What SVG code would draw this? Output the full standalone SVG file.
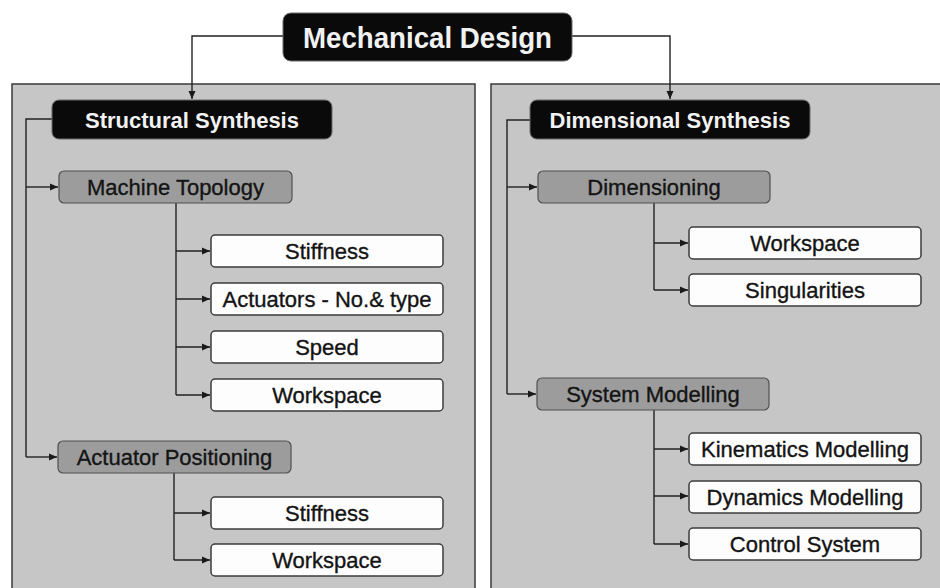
<svg xmlns="http://www.w3.org/2000/svg" width="940" height="588" viewBox="0 0 940 588">
<style>
.panel{fill:#c6c6c6;stroke:#3a3a3a;stroke-width:1.5}
.hdr{fill:#0a0a0a;stroke:#6a6a6a;stroke-width:1}
.hdrt{font-family:"Liberation Sans",Arial,sans-serif;font-weight:bold;fill:#f2f2f2;text-anchor:middle}
.grey{fill:#9c9c9c;stroke:#505050;stroke-width:1.2}
.white{fill:#fdfdfd;stroke:#3c3c3c;stroke-width:1.5}
.t{font-family:"Liberation Sans",Arial,sans-serif;font-size:22px;fill:#141414;stroke:#141414;stroke-width:0.35;text-anchor:middle}
.c{fill:none;stroke:#222;stroke-width:1.4}
</style>
<defs>
<marker id="arr" markerUnits="userSpaceOnUse" markerWidth="9" markerHeight="8" refX="8" refY="4" orient="auto">
<path d="M0,0.5 L8,4 L0,7.5 z" fill="#1a1a1a"/>
</marker>
</defs>
<rect width="940" height="588" fill="#ffffff"/>
<rect class="panel" x="12" y="84" width="463" height="520"/>
<rect class="panel" x="491" y="84" width="460" height="520"/>

<g id="connectors">
<path class="c" d="M283,36 H192 V99" marker-end="url(#arr)"/>
<path class="c" d="M572,36 H670 V99" marker-end="url(#arr)"/>
<path class="c" d="M52,119 H26 V457"/>
<path class="c" d="M26,187 H58" marker-end="url(#arr)"/>
<path class="c" d="M26,457 H57" marker-end="url(#arr)"/>
<path class="c" d="M176,203 V395"/>
<path class="c" d="M176,251 H210" marker-end="url(#arr)"/>
<path class="c" d="M176,299 H210" marker-end="url(#arr)"/>
<path class="c" d="M176,347 H210" marker-end="url(#arr)"/>
<path class="c" d="M176,395 H210" marker-end="url(#arr)"/>
<path class="c" d="M174,473 V560"/>
<path class="c" d="M174,513 H210" marker-end="url(#arr)"/>
<path class="c" d="M174,560 H210" marker-end="url(#arr)"/>
<path class="c" d="M530,120 H507 V394"/>
<path class="c" d="M507,187 H537" marker-end="url(#arr)"/>
<path class="c" d="M507,394 H536" marker-end="url(#arr)"/>
<path class="c" d="M654,202 V290"/>
<path class="c" d="M654,243 H688" marker-end="url(#arr)"/>
<path class="c" d="M654,290 H688" marker-end="url(#arr)"/>
<path class="c" d="M654,410 V544"/>
<path class="c" d="M654,449 H688" marker-end="url(#arr)"/>
<path class="c" d="M654,496 H688" marker-end="url(#arr)"/>
<path class="c" d="M654,544 H688" marker-end="url(#arr)"/>
</g>

<g id="mechanical-design">
<rect class="hdr" x="283" y="13" width="289" height="48" rx="8"/>
<text class="hdrt" x="427.5" y="48" font-size="30" textLength="249" lengthAdjust="spacingAndGlyphs">Mechanical Design</text>
</g>
<g id="structural-synthesis">
<rect class="hdr" x="52" y="100" width="280" height="39" rx="7"/>
<text class="hdrt" x="192" y="127.5" font-size="22">Structural Synthesis</text>
</g>
<g id="dimensional-synthesis">
<rect class="hdr" x="530" y="100" width="280" height="39" rx="7"/>
<text class="hdrt" x="670" y="127.5" font-size="22">Dimensional Synthesis</text>
</g>

<g id="machine-topology">
<rect class="grey" x="59" y="171" width="233" height="32" rx="5"/>
<text class="t" x="175.5" y="194.5">Machine Topology</text>
</g>
<g id="mt-stiffness">
<rect class="white" x="211" y="235" width="232" height="32" rx="4"/>
<text class="t" x="327" y="258.5">Stiffness</text>
</g>
<g id="mt-actuators">
<rect class="white" x="211" y="283" width="232" height="32" rx="4"/>
<text class="t" x="327" y="306.5">Actuators - No.&amp; type</text>
</g>
<g id="mt-speed">
<rect class="white" x="211" y="331" width="232" height="32" rx="4"/>
<text class="t" x="327" y="354.5">Speed</text>
</g>
<g id="mt-workspace">
<rect class="white" x="211" y="379" width="232" height="32" rx="4"/>
<text class="t" x="327" y="402.5">Workspace</text>
</g>

<g id="actuator-positioning">
<rect class="grey" x="58" y="441" width="233" height="32" rx="5"/>
<text class="t" x="174.5" y="464.5">Actuator Positioning</text>
</g>
<g id="ap-stiffness">
<rect class="white" x="211" y="497" width="232" height="32" rx="4"/>
<text class="t" x="327" y="520.5">Stiffness</text>
</g>
<g id="ap-workspace">
<rect class="white" x="211" y="544" width="232" height="32" rx="4"/>
<text class="t" x="327" y="567.5">Workspace</text>
</g>

<g id="dimensioning">
<rect class="grey" x="538" y="171" width="232" height="32" rx="5"/>
<text class="t" x="654" y="194.5">Dimensioning</text>
</g>
<g id="dm-workspace">
<rect class="white" x="689" y="227" width="232" height="32" rx="4"/>
<text class="t" x="805" y="250.5">Workspace</text>
</g>
<g id="dm-singularities">
<rect class="white" x="689" y="274" width="232" height="32" rx="4"/>
<text class="t" x="805" y="297.5">Singularities</text>
</g>

<g id="system-modelling">
<rect class="grey" x="537" y="378" width="232" height="32" rx="5"/>
<text class="t" x="653" y="401.5">System Modelling</text>
</g>
<g id="sm-kinematics">
<rect class="white" x="689" y="433" width="232" height="32" rx="4"/>
<text class="t" x="805" y="456.5">Kinematics Modelling</text>
</g>
<g id="sm-dynamics">
<rect class="white" x="689" y="481" width="232" height="32" rx="4"/>
<text class="t" x="805" y="504.5">Dynamics Modelling</text>
</g>
<g id="sm-control">
<rect class="white" x="689" y="528" width="232" height="32" rx="4"/>
<text class="t" x="805" y="551.5">Control System</text>
</g>
</svg>
